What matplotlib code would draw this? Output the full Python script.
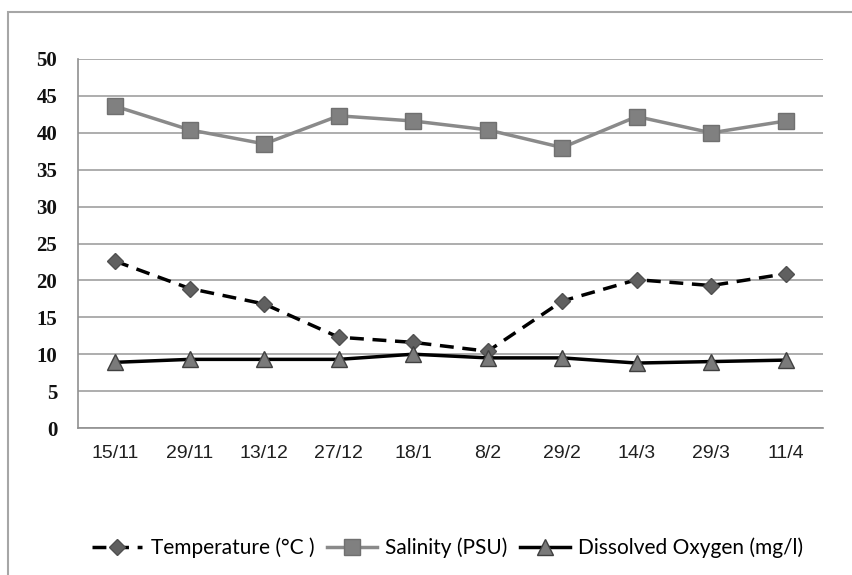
import matplotlib
matplotlib.use("Agg")
import matplotlib.pyplot as plt
from matplotlib.patches import Rectangle

dates = ["15/11", "29/11", "13/12", "27/12", "18/1", "8/2", "29/2", "14/3", "29/3", "11/4"]
temperature = [22.6, 18.9, 16.8, 12.3, 11.6, 10.4, 17.2, 20.1, 19.3, 20.9]
salinity = [43.6, 40.4, 38.5, 42.3, 41.6, 40.4, 38.0, 42.2, 40.0, 41.6]
oxygen = [8.9, 9.3, 9.3, 9.3, 10.0, 9.5, 9.5, 8.8, 9.0, 9.2]
y_ticks = [0, 5, 10, 15, 20, 25, 30, 35, 40, 45, 50]

W, H = 853, 575
fig = plt.figure(figsize=(W / 100, H / 100), dpi=100)
fig.patch.set_facecolor("white")

# outer chart frame (extends beyond image on right/bottom)
fig.patches.append(Rectangle((8 / W, -0.05), 1.2, 1 - 12 / H + 0.05,
                             transform=fig.transFigure, fill=False,
                             edgecolor="#a6a6a6", linewidth=1.5))

ax = fig.add_axes([78 / W, 1 - 428 / H, 745 / W, (428 - 59) / H])
x = list(range(len(dates)))

ax.plot(x, temperature, color="black", linestyle=(0, (4, 2.5)), linewidth=2.5,
        marker="D", markersize=8, markerfacecolor="#606060", markeredgecolor="#505050",
        label="Temperature (°C )", zorder=3)
ax.plot(x, salinity, color="#8a8a8a", linewidth=2.5,
        marker="s", markersize=11, markerfacecolor="#808080", markeredgecolor="#707070",
        label="Salinity (PSU)", zorder=3)
ax.plot(x, oxygen, color="black", linewidth=2.5,
        marker="^", markersize=11, markerfacecolor="#7a7a7a", markeredgecolor="#404040",
        label="Dissolved Oxygen (mg/l)", zorder=3)

ax.set_xlim(-0.5, len(dates) - 0.5)
ax.set_ylim(0, 50)
ax.set_yticks(y_ticks)
ax.set_xticks(x)
ax.set_xticklabels(dates, fontfamily="Liberation Sans", fontsize=14, color="#202020")
ax.set_yticklabels([str(v) for v in y_ticks], fontfamily="Liberation Serif",
                   fontsize=15, fontweight="bold", color="#111111")
ax.tick_params(axis="both", length=0)
ax.tick_params(axis="y", pad=15)
ax.tick_params(axis="x", pad=12)
ax.grid(axis="y", color="#a0a0a0", linewidth=1.2)
ax.set_axisbelow(True)
for s in ["top", "right"]:
    ax.spines[s].set_visible(False)
ax.spines["left"].set_color("#909090")
ax.spines["bottom"].set_color("#909090")
ax.spines["left"].set_linewidth(1.2)
ax.spines["bottom"].set_linewidth(1.2)

leg = fig.legend(loc="center", bbox_to_anchor=(448 / W, 1 - 548 / H), ncol=3,
                 frameon=False, handlelength=2.4, columnspacing=0.6, handletextpad=0.4,
                 prop={"family": ["Lato", "DejaVu Sans"], "size": 15})

fig.savefig("out.png", dpi=100, facecolor="white")
